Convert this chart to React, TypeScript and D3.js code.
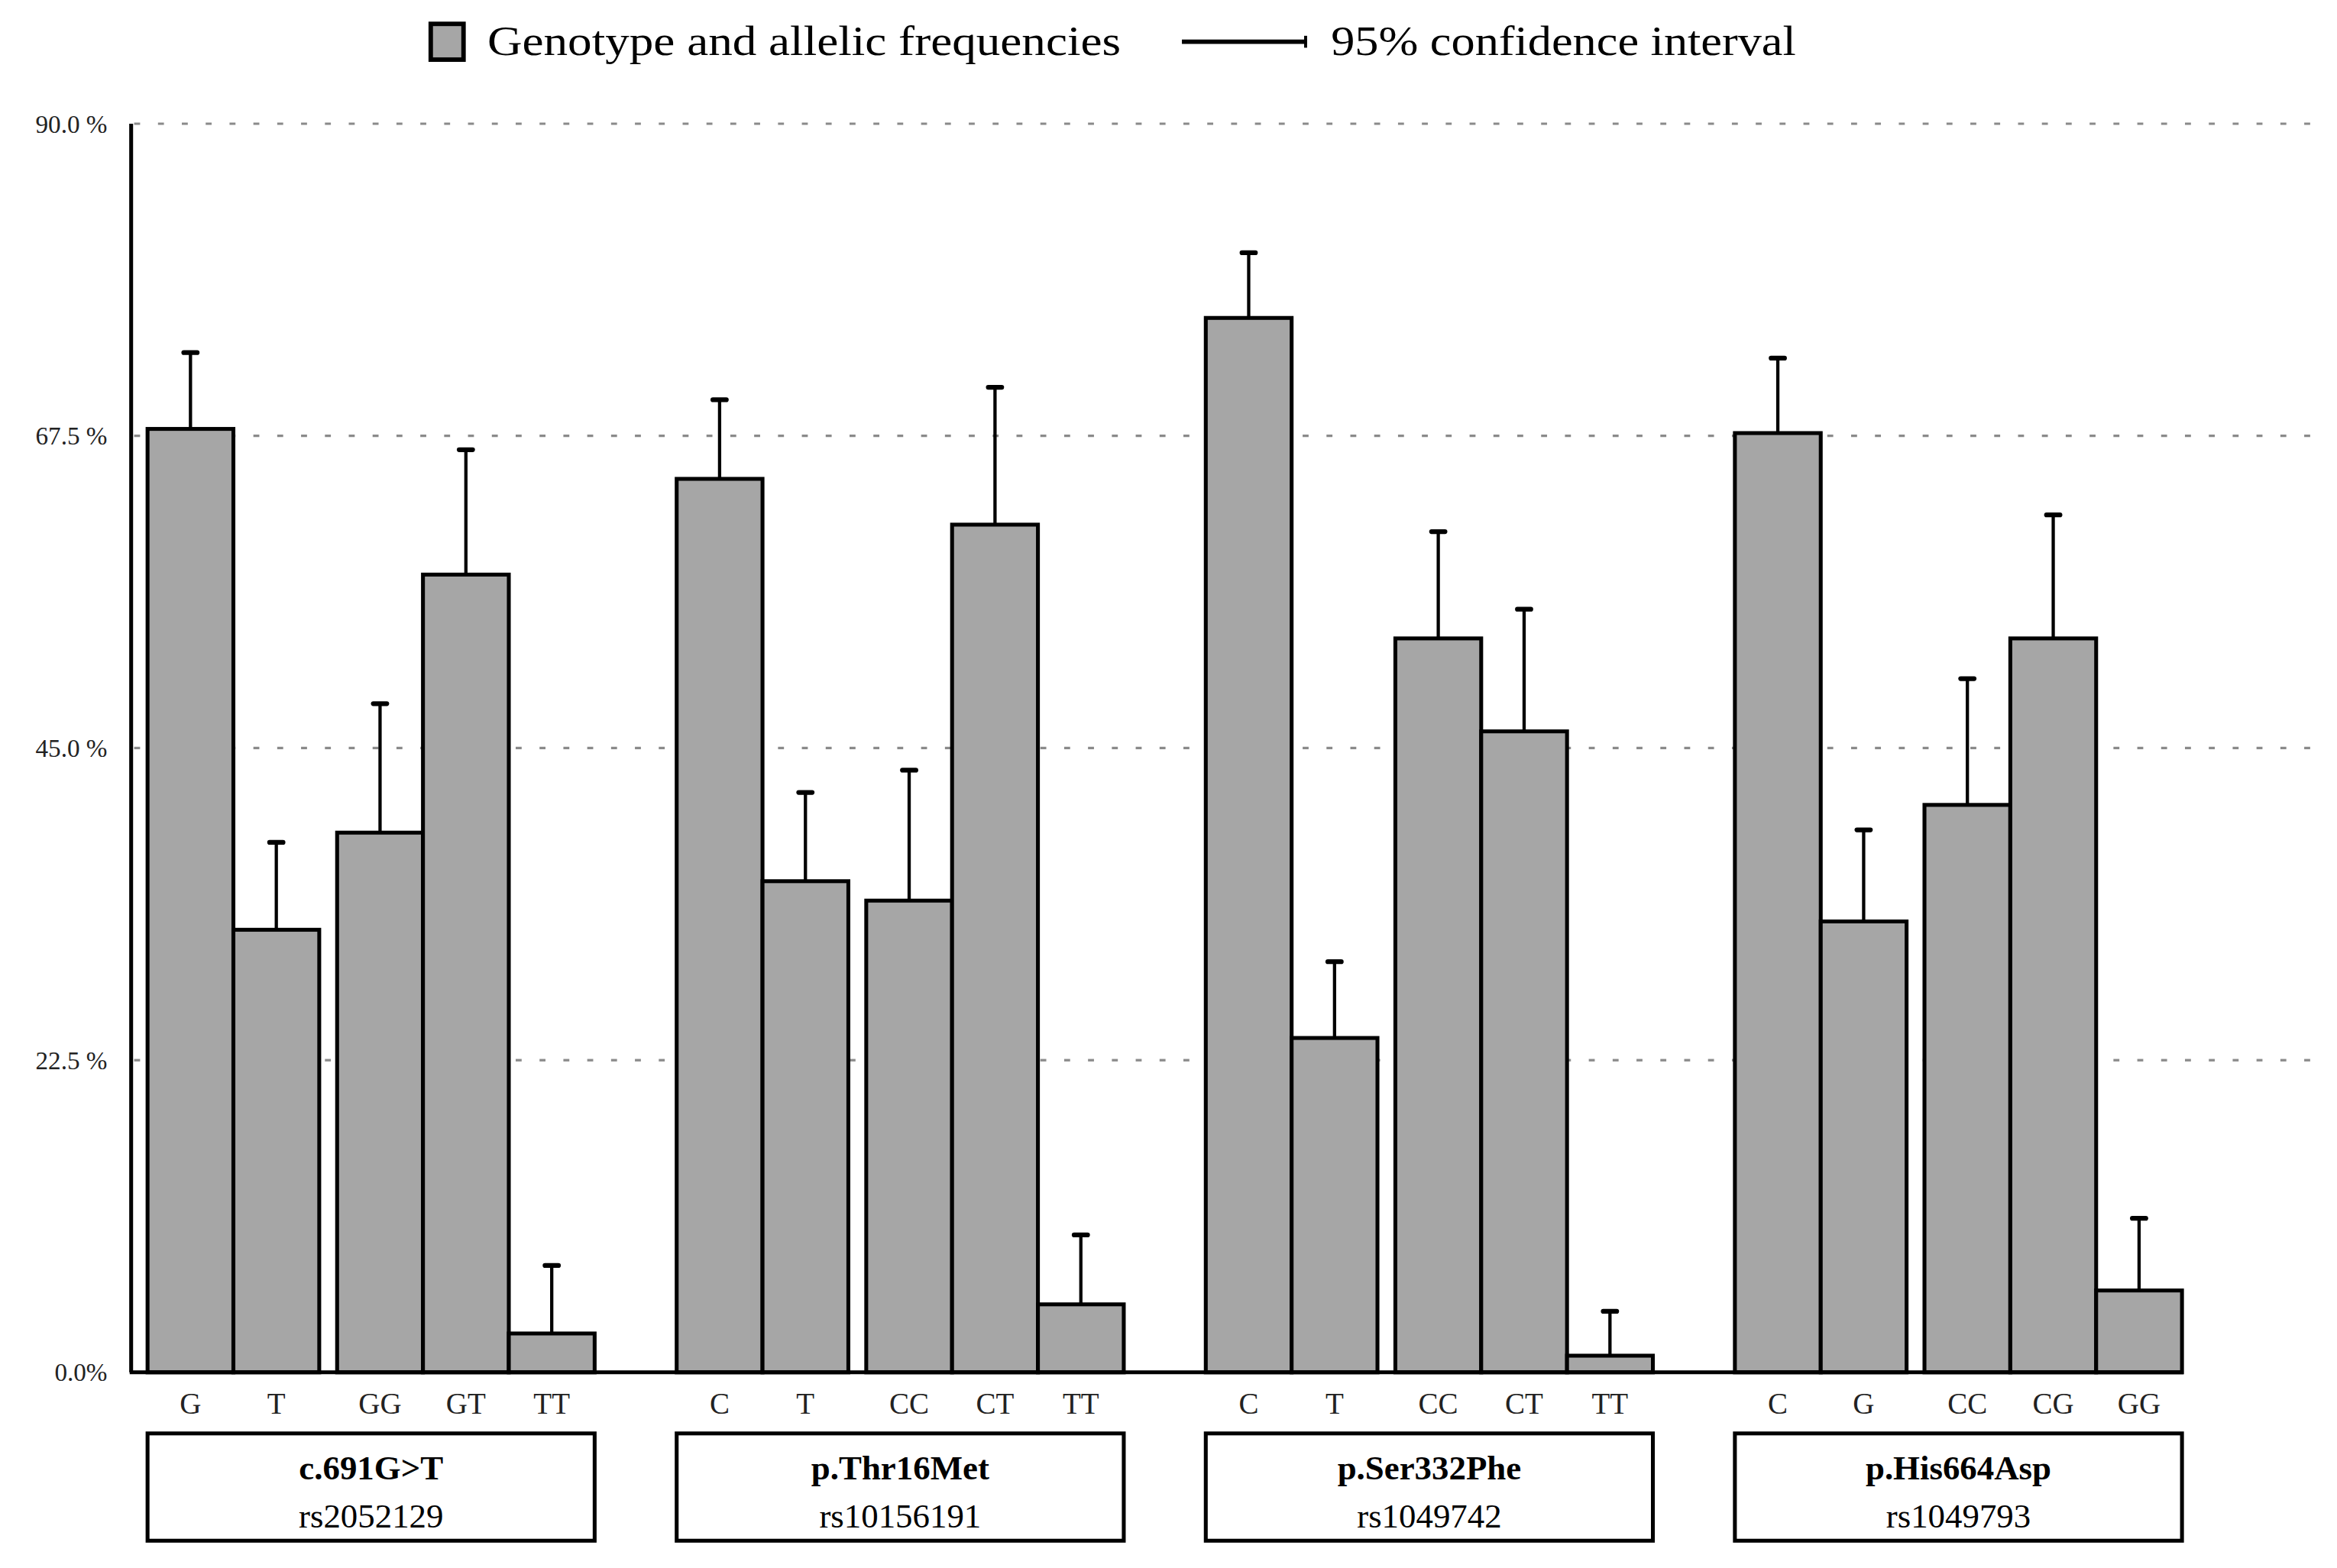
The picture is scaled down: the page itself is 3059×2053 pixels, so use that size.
import React, { useEffect, useRef } from 'react';
import * as d3 from 'd3';

// groups of SNPs
const groups = ['c.691G>T', 'p.Thr16Met', 'p.Ser332Phe', 'p.His664Asp'];
const rsIds = ['rs2052129', 'rs10156191', 'rs1049742', 'rs1049793'];
const categories = [
    ['G', 'T', 'GG', 'GT', 'TT'],
    ['C', 'T', 'CC', 'CT', 'TT'],
    ['C', 'T', 'CC', 'CT', 'TT'],
    ['C', 'G', 'CC', 'CG', 'GG'],
];
// frequency (%) and upper 95% CI bound
const freqs = [
    [68.0, 31.9, 38.9, 57.5, 2.8],
    [64.4, 35.4, 34.0, 61.1, 4.9],
    [76.0, 24.1, 52.9, 46.2, 1.2],
    [67.7, 32.5, 40.9, 52.9, 5.9],
];
const ciUpper = [
    [73.5, 38.2, 48.2, 66.5, 7.7],
    [70.1, 41.8, 43.4, 71.0, 9.9],
    [80.7, 29.6, 60.6, 55.0, 4.4],
    [73.1, 39.1, 50.0, 61.8, 11.1],
];
const yTicks = [0, 22.5, 45, 67.5, 90];
const yTickLabels = ['0.0%', '22.5 %', '45.0 %', '67.5 %', '90.0 %'];

const App = () => {
    const ref = useRef(null);

    useEffect(() => {
        const svg = d3.select(ref.current);
        svg.selectAll('*').remove();

        const width = 1568;
        const height = 1052.3;
        const font = '"Liberation Serif", "DejaVu Serif", serif';

        svg.attr('viewBox', [0, 0, width, height])
            .style('font-family', font);

        svg.append('rect').attr('width', width).attr('height', height).attr('fill', 'white');

        const y = d3.scaleLinear().domain([0, 90]).range([921, 83]);
        const gx = d3.scaleBand().domain(groups).range([99, 1464]).paddingInner(0.155).paddingOuter(0);
        const gap = 12;
        const bw = (gx.bandwidth() - gap) / 5;
        const barX = (g, i) => gx(groups[g]) + i * bw + (i >= 2 ? gap : 0);

        // grid
        svg.append('g')
            .selectAll('line')
            .data(yTicks.filter(d => d > 0))
            .join('line')
            .attr('x1', 90).attr('x2', 1552)
            .attr('y1', d => y(d)).attr('y2', d => y(d))
            .attr('stroke', '#8a8a8a')
            .attr('stroke-width', 1.6)
            .attr('stroke-dasharray', '4 12');

        // y labels
        svg.append('g')
            .selectAll('text')
            .data(yTicks)
            .join('text')
            .attr('x', 72)
            .attr('y', d => y(d))
            .attr('dy', '0.35em')
            .attr('text-anchor', 'end')
            .attr('font-size', 17)
            .attr('fill', '#222')
            .text((d, i) => yTickLabels[i]);

        const flat = [];
        groups.forEach((g, gi) => {
            categories[gi].forEach((c, i) => {
                flat.push({ gi, i, cat: c, v: freqs[gi][i], hi: ciUpper[gi][i] });
            });
        });

        // error bars
        const eb = svg.append('g').attr('stroke', 'black');
        eb.selectAll('line.v')
            .data(flat)
            .join('line')
            .attr('class', 'v')
            .attr('x1', d => barX(d.gi, d.i) + bw / 2)
            .attr('x2', d => barX(d.gi, d.i) + bw / 2)
            .attr('y1', d => y(d.v))
            .attr('y2', d => y(d.hi))
            .attr('stroke-width', 2.2);
        eb.selectAll('line.c')
            .data(flat)
            .join('line')
            .attr('class', 'c')
            .attr('x1', d => barX(d.gi, d.i) + bw / 2 - 4.5)
            .attr('x2', d => barX(d.gi, d.i) + bw / 2 + 4.5)
            .attr('y1', d => y(d.hi))
            .attr('y2', d => y(d.hi))
            .attr('stroke-width', 3.2)
            .attr('stroke-linecap', 'round');

        // bars
        svg.append('g')
            .selectAll('rect')
            .data(flat)
            .join('rect')
            .attr('x', d => barX(d.gi, d.i))
            .attr('y', d => y(d.v))
            .attr('width', bw)
            .attr('height', d => y(0) - y(d.v))
            .attr('fill', '#a6a6a6')
            .attr('stroke', 'black')
            .attr('stroke-width', 2.6);

        // axes lines
        svg.append('line')
            .attr('x1', 88).attr('x2', 88)
            .attr('y1', y(90)).attr('y2', y(0))
            .attr('stroke', 'black').attr('stroke-width', 2.6);
        svg.append('line')
            .attr('x1', 87).attr('x2', gx.range()[1] + 1)
            .attr('y1', y(0)).attr('y2', y(0))
            .attr('stroke', 'black').attr('stroke-width', 2.6);

        // category labels
        svg.append('g')
            .selectAll('text')
            .data(flat)
            .join('text')
            .attr('x', d => barX(d.gi, d.i) + bw / 2)
            .attr('y', 949)
            .attr('text-anchor', 'middle')
            .attr('font-size', 20)
            .attr('fill', '#222')
            .text(d => d.cat);

        // group boxes
        const gb = svg.append('g')
            .selectAll('g')
            .data(groups)
            .join('g')
            .attr('transform', d => `translate(${gx(d)},962)`);
        gb.append('rect')
            .attr('width', gx.bandwidth())
            .attr('height', 72)
            .attr('fill', 'white')
            .attr('stroke', 'black')
            .attr('stroke-width', 2.6);
        gb.append('text')
            .attr('x', gx.bandwidth() / 2)
            .attr('y', 31)
            .attr('text-anchor', 'middle')
            .attr('font-size', 23)
            .attr('font-weight', 'bold')
            .text(d => d);
        gb.append('text')
            .attr('x', gx.bandwidth() / 2)
            .attr('y', 63)
            .attr('text-anchor', 'middle')
            .attr('font-size', 23)
            .text((d, i) => rsIds[i]);

        //////// LEGEND ////////
        const legend = svg.append('g');
        legend.append('rect')
            .attr('x', 289).attr('y', 16)
            .attr('width', 22).attr('height', 24)
            .attr('fill', '#a6a6a6')
            .attr('stroke', 'black')
            .attr('stroke-width', 3);
        legend.append('text')
            .attr('x', 327).attr('y', 37)
            .attr('font-size', 28)
            .attr('textLength', 425)
            .attr('lengthAdjust', 'spacingAndGlyphs')
            .text('Genotype and allelic frequencies');
        legend.append('line')
            .attr('x1', 793).attr('x2', 877)
            .attr('y1', 28).attr('y2', 28)
            .attr('stroke', 'black').attr('stroke-width', 3);
        legend.append('line')
            .attr('x1', 876).attr('x2', 876)
            .attr('y1', 24).attr('y2', 32)
            .attr('stroke', 'black').attr('stroke-width', 2);
        legend.append('text')
            .attr('x', 893).attr('y', 37)
            .attr('font-size', 28)
            .attr('textLength', 312)
            .attr('lengthAdjust', 'spacingAndGlyphs')
            .text('95% confidence interval');
    }, []);

    return (
        <svg ref={ref} width={3059} height={2053}
            style={{ position: 'absolute', left: 0, top: 0, display: 'block' }} />
    );
};

export default App;
